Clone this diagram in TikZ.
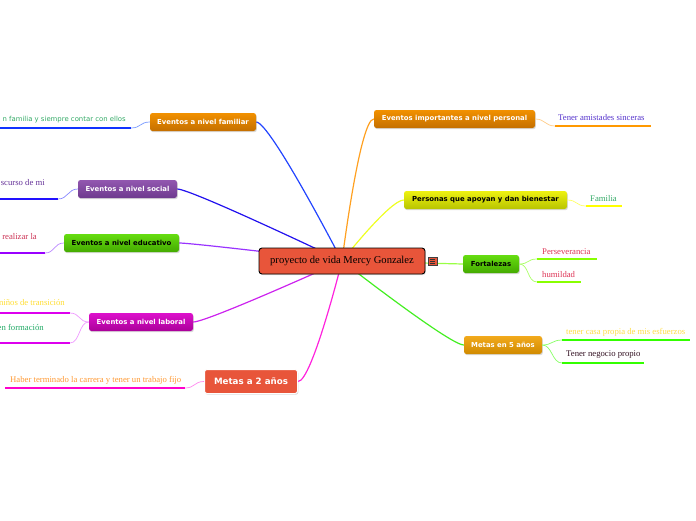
\documentclass[tikz,border=0pt]{standalone}
\usepackage{fontspec}
\setmainfont{Liberation Serif}
\setsansfont{DejaVu Sans}
\usepackage{tikz}
\usetikzlibrary{positioning,shadows,backgrounds,calc}
\definecolor{rootred}{HTML}{E8553A}
\definecolor{topicorange}{HTML}{F29100}
\definecolor{topicorangedark}{HTML}{C46F00}
\definecolor{topicpurple}{HTML}{9257B0}
\definecolor{topicpurpledark}{HTML}{6E3A8E}
\definecolor{topicgreen}{HTML}{66DD11}
\definecolor{topicgreendark}{HTML}{44AA00}
\definecolor{topicmagenta}{HTML}{DD11CC}
\definecolor{topicmagentadark}{HTML}{AA0099}
\definecolor{topicyellow}{HTML}{EEF211}
\definecolor{topicyellowdark}{HTML}{B8C400}
\definecolor{topicgold}{HTML}{F2AA1C}
\definecolor{topicgolddark}{HTML}{D08A00}

\begin{document}
\begin{tikzpicture}[x=1pt,y=-1pt,
  topic/.style={
    rounded corners=2.5pt,
    minimum height=18pt,
    inner sep=2pt,
    font=\sffamily\bfseries\fontsize{6.9}{8}\selectfont,
    text=white,
    drop shadow={opacity=0.3,shadow xshift=0.8pt,shadow yshift=-1.2pt}
  },
  orangetopic/.style={topic,top color=topicorange,bottom color=topicorangedark},
  purpletopic/.style={topic,top color=topicpurple,bottom color=topicpurpledark},
  greentopic/.style={topic,top color=topicgreen,bottom color=topicgreendark,text=black},
  magentatopic/.style={topic,top color=topicmagenta,bottom color=topicmagentadark},
  yellowtopic/.style={topic,top color=topicyellow,bottom color=topicyellowdark,text=black},
  goldtopic/.style={topic,top color=topicgold,bottom color=topicgolddark},
  branch/.style={line width=1.2pt},
  twig/.style={line width=0.7pt},
  uline/.style={line width=2.6pt},
  leaf/.style={inner sep=0pt,font=\fontsize{8.7}{10}\selectfont},
  sansleaf/.style={inner sep=0pt,font=\sffamily\fontsize{6.9}{8}\selectfont}
]
\useasboundingbox (0,0) rectangle (696,520);
\clip (0,0) rectangle (696,520);

\node[draw=black,line width=0.9pt,fill=rootred,rounded corners=3pt,
  minimum width=166pt,minimum height=26pt,inner sep=2pt,
  font=\fontsize{10.6}{12}\selectfont,
  drop shadow={opacity=0.25,shadow xshift=0.8pt,shadow yshift=-1.2pt}]
  (root) at (342,261) {proyecto de vida Mercy Gonzalez};
\node[draw=black!75,line width=0.4pt,fill=rootred,minimum size=8.5pt,inner sep=0pt]
  (note) at (432.5,261) {};
\foreach \dy in {-2,0,2}
  \draw[black!80,line width=0.7pt] ($(note.center)+(-2.3,\dy)$) -- ($(note.center)+(2.3,\dy)$);

\node[orangetopic,minimum width=106pt] (familiar) at (203,122) {Eventos a nivel familiar};
\node[purpletopic,minimum width=99pt] (social) at (127.5,189) {Eventos a nivel social};
\node[greentopic,minimum width=115pt] (educativo) at (121.5,243) {Eventos a nivel educativo};
\node[magentatopic,minimum width=104pt] (laboral) at (141,322) {Eventos a nivel laboral};
\node[topic,fill=rootred,draw=white,line width=1pt,minimum width=93pt,minimum height=24pt,
  font=\sffamily\bfseries\fontsize{8.7}{10}\selectfont] (metasdos) at (251,381.5) {Metas a 2 años};
\node[orangetopic,minimum width=161pt] (personal) at (454.5,119) {Eventos importantes a nivel personal};
\node[yellowtopic,minimum width=163pt] (personas) at (485.5,200) {Personas que apoyan y dan bienestar};
\node[greentopic,minimum width=56pt] (fortalezas) at (491,264) {Fortalezas};
\node[goldtopic,minimum width=78pt] (metascinco) at (503,345) {Metas en 5 años};

\begin{pgfonlayer}{background}
\draw[branch,color={rgb,255:red,34;green,68;blue,255}] (root.center) .. controls (root.center) and ($(familiar.east)+(14,0)$) .. (familiar.east);
\draw[branch,color={rgb,255:red,34;green,17;blue,238}] (root.center) .. controls (root.center) and ($(social.east)+(14,0)$) .. (social.east);
\draw[branch,color={rgb,255:red,153;green,51;blue,255}] (root.center) .. controls (root.center) and ($(educativo.east)+(14,0)$) .. (educativo.east);
\draw[branch,color={rgb,255:red,204;green,34;blue,238}] (root.center) .. controls (root.center) and ($(laboral.east)+(14,0)$) .. (laboral.east);
\draw[branch,color={rgb,255:red,255;green,34;blue,221}] (root.center) .. controls (root.center) and ($(metasdos.east)+(14,0)$) .. (metasdos.east);
\draw[branch,color={rgb,255:red,255;green,160;blue,32}] (root.center) .. controls (root.center) and ($(personal.west)+(-14,0)$) .. (personal.west);
\draw[branch,color={rgb,255:red,238;green,255;blue,34}] (root.center) .. controls (root.center) and ($(personas.west)+(-14,0)$) .. (personas.west);
\draw[branch,color={rgb,255:red,153;green,255;blue,68}] (root.center) -- (fortalezas.west);
\draw[branch,color={rgb,255:red,68;green,238;blue,34}] (root.center) .. controls (root.center) and ($(metascinco.west)+(-14,0)$) .. (metascinco.west);
\end{pgfonlayer}

\coordinate (familiarA) at (-5,128);
\coordinate (familiarB) at (131,128);
\coordinate (socialA) at (-5,199);
\coordinate (socialB) at (58,199);
\coordinate (educativoA) at (-5,253);
\coordinate (educativoB) at (45,253);
\coordinate (laboralA) at (-5,313);
\coordinate (laboralB) at (70,313);
\coordinate (laboralC) at (-5,343);
\coordinate (laboralD) at (70,343);
\coordinate (metasdosA) at (5,388);
\coordinate (metasdosB) at (185,388);
\coordinate (personalA) at (555,126);
\coordinate (personalB) at (651,126);
\coordinate (personasA) at (586,206);
\coordinate (personasB) at (622,206);
\coordinate (fortalezasA) at (537,259);
\coordinate (fortalezasB) at (597,259);
\coordinate (fortalezasC) at (537,282);
\coordinate (fortalezasD) at (581,282);
\coordinate (metascincoA) at (562,340);
\coordinate (metascincoB) at (690,340);
\coordinate (metascincoC) at (562,363);
\coordinate (metascincoD) at (644,363);

\draw[uline,color={rgb,255:red,17;green,51;blue,255}] (familiarA) -- (familiarB);
\draw[uline,color={rgb,255:red,34;green,17;blue,255}] (socialA) -- (socialB);
\draw[uline,color={rgb,255:red,153;green,0;blue,255}] (educativoA) -- (educativoB);
\draw[uline,color={rgb,255:red,221;green,0;blue,238}] (laboralA) -- (laboralB);
\draw[uline,color={rgb,255:red,221;green,0;blue,238}] (laboralC) -- (laboralD);
\draw[uline,color={rgb,255:red,255;green,0;blue,204}] (metasdosA) -- (metasdosB);
\draw[uline,color={rgb,255:red,255;green,153;blue,0}] (personalA) -- (personalB);
\draw[uline,color={rgb,255:red,255;green,255;blue,0}] (personasA) -- (personasB);
\draw[uline,color={rgb,255:red,136;green,255;blue,0}] (fortalezasA) -- (fortalezasB);
\draw[uline,color={rgb,255:red,136;green,255;blue,0}] (fortalezasC) -- (fortalezasD);
\draw[uline,color={rgb,255:red,51;green,255;blue,0}] (metascincoA) -- (metascincoB);
\draw[uline,color={rgb,255:red,51;green,255;blue,0}] (metascincoC) -- (metascincoD);

\draw[twig,color={rgb,255:red,119;green,153;blue,255}] (familiar.west) .. controls +(-10,0) and +(10,0) .. (familiarB);
\draw[twig,color={rgb,255:red,136;green,136;blue,255}] (social.west) .. controls +(-10,0) and +(10,0) .. (socialB);
\draw[twig,color={rgb,255:red,187;green,136;blue,255}] (educativo.west) .. controls +(-10,0) and +(10,0) .. (educativoB);
\draw[twig,color={rgb,255:red,238;green,153;blue,255}] (laboral.west) .. controls +(-10,0) and +(10,0) .. (laboralB);
\draw[twig,color={rgb,255:red,238;green,153;blue,255}] (laboral.west) .. controls +(-10,0) and +(10,0) .. (laboralD);
\draw[twig,color={rgb,255:red,255;green,136;blue,238}] (metasdos.west) .. controls +(-10,0) and +(10,0) .. (metasdosB);
\draw[twig,color={rgb,255:red,255;green,204;blue,136}] (personal.east) .. controls +(10,0) and +(-10,0) .. (personalA);
\draw[twig,color={rgb,255:red,255;green,255;blue,102}] (personas.east) .. controls +(10,0) and +(-10,0) .. (personasA);
\draw[twig,color={rgb,255:red,170;green,255;blue,102}] (fortalezas.east) .. controls +(10,0) and +(-10,0) .. (fortalezasA);
\draw[twig,color={rgb,255:red,170;green,255;blue,102}] (fortalezas.east) .. controls +(10,0) and +(-10,0) .. (fortalezasC);
\draw[twig,color={rgb,255:red,136;green,255;blue,102}] (metascinco.east) .. controls +(10,0) and +(-10,0) .. (metascincoA);
\draw[twig,color={rgb,255:red,136;green,255;blue,102}] (metascinco.east) .. controls +(10,0) and +(-10,0) .. (metascincoC);

\node[sansleaf,anchor=east,text={rgb,255:red,51;green,170;blue,102}] (familiarT) at (126,120) {n familia y siempre contar con ellos};
\node[leaf,anchor=east,text={rgb,255:red,102;green,51;blue,153}] (socialT) at (45,183) {scurso de mi};
\node[leaf,anchor=east,text={rgb,255:red,204;green,51;blue,85}] (educativoT) at (37,237) {realizar la};
\node[leaf,anchor=east,text={rgb,255:red,255;green,221;blue,51}] (laboralT) at (65,303) {niños de transición};
\node[leaf,anchor=east,text={rgb,255:red,34;green,170;blue,102}] (laboralU) at (44,327) {en formación};
\node[leaf,anchor=west,text={rgb,255:red,255;green,153;blue,51}] (metasdosT) at (10,380) {Haber terminado la carrera y tener un trabajo fijo};
\node[leaf,anchor=west,text={rgb,255:red,85;green,51;blue,204}] (personalT) at (558,118) {Tener amistades sinceras};
\node[leaf,anchor=west,text={rgb,255:red,51;green,170;blue,102}] (personasT) at (590,199) {Familia};
\node[leaf,anchor=west,text={rgb,255:red,221;green,51;blue,85}] (fortalezasT) at (542,252) {Perseverancia};
\node[leaf,anchor=west,text={rgb,255:red,221;green,51;blue,85}] (fortalezasU) at (542,275) {humildad};
\node[leaf,anchor=west,text={rgb,255:red,255;green,221;blue,68}] (metascincoT) at (566,332) {tener casa propia de mis esfuerzos};
\node[leaf,anchor=west,text={rgb,255:red,51;green,17;blue,34}] (metascincoU) at (566,355) {Tener negocio propio};
\end{tikzpicture}
\end{document}
